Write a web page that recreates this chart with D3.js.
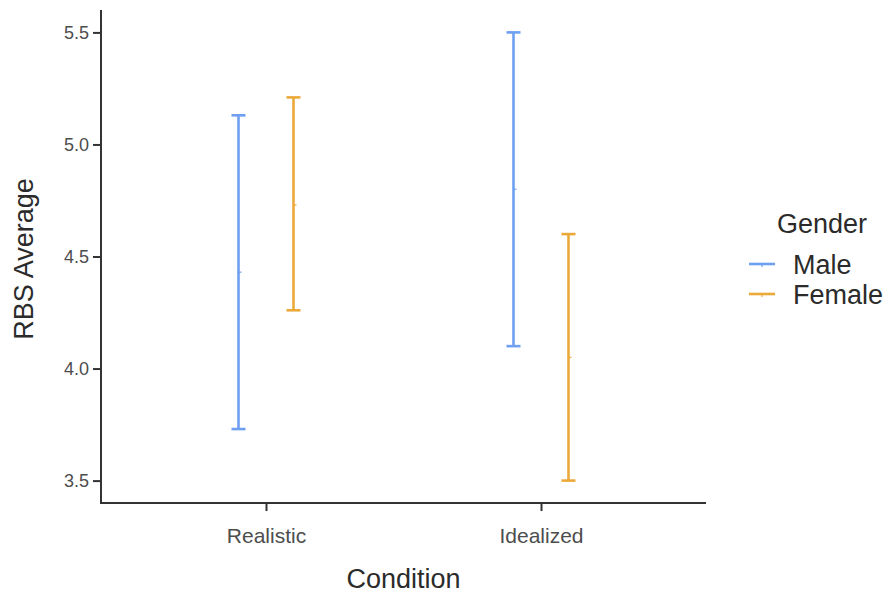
<!DOCTYPE html>
<html lang="en">
<head>
  <meta charset="utf-8">
  <title>RBS Average by Condition</title>
  <script src="https://d3js.org/d3.v7.min.js"></script>
  <style>
    body { margin: 0; background: #fff; }
    svg { display: block; font-family: "Liberation Sans", Arial, sans-serif; }
  </style>
</head>
<body>

<svg width="894" height="596"></svg>

<script>
  // Data
  const conditions = ["Realistic", "Idealized"];
  const genders = ["Male", "Female"];
  const means = { Male: [4.43, 4.80], Female: [4.73, 4.05] };
  const lower = { Male: [3.73, 4.10], Female: [4.26, 3.50] };
  const upper = { Male: [5.13, 5.50], Female: [5.21, 4.60] };
  const yTicks = [3.5, 4.0, 4.5, 5.0, 5.5];

  const colors = { Male: "#6e9ff0", Female: "#eba93a" };

  const svg = d3.select("svg");
  const pLeft = 101, pRight = 706, pTop = 10, pBottom = 503;

  // scales
  const x = d3.scaleLinear().domain([0.4, 2.6]).range([pLeft, pRight]);
  const y = d3.scaleLinear().domain([3.4, 5.6]).range([pBottom, pTop]);
  const dodge = { Male: -0.1, Female: 0.1 };

  // rows
  const rows = [];
  genders.forEach(g => conditions.forEach((c, i) => {
    rows.push({ gender: g, idx: i + 1, mean: means[g][i], lo: lower[g][i], hi: upper[g][i] });
  }));

  // Axes
  const yAxis = svg.append("g")
    .attr("transform", `translate(${pLeft},0)`)
    .call(d3.axisLeft(y).tickValues(yTicks).tickFormat(d3.format(".1f")).tickSize(8).tickSizeOuter(0).tickPadding(4));
  yAxis.select(".domain").remove();
  yAxis.append("line").attr("y1", pTop).attr("y2", pBottom).attr("stroke", "#333").attr("stroke-width", 2);
  yAxis.selectAll(".tick line").attr("stroke", "#333").attr("stroke-width", 2);
  yAxis.selectAll(".tick text").attr("fill", "#4d4d4d").attr("font-size", 18);

  const xAxis = svg.append("g")
    .attr("transform", `translate(0,${pBottom})`)
    .call(d3.axisBottom(x).tickValues([1, 2]).tickFormat(d => conditions[d - 1]).tickSize(8).tickSizeOuter(0).tickPadding(17));
  xAxis.select(".domain").remove();
  xAxis.append("line").attr("x1", pLeft - 1).attr("x2", pRight).attr("stroke", "#333").attr("stroke-width", 2);
  xAxis.selectAll(".tick line").attr("stroke", "#333").attr("stroke-width", 2);
  xAxis.selectAll(".tick text").attr("fill", "#4d4d4d").attr("font-size", 21);

  // Error bars
  const bars = svg.append("g").selectAll("g").data(rows).join("g")
    .attr("stroke", d => colors[d.gender]).attr("stroke-width", 2.6);
  bars.append("line")
    .attr("x1", d => x(d.idx + dodge[d.gender])).attr("x2", d => x(d.idx + dodge[d.gender]))
    .attr("y1", d => y(d.lo)).attr("y2", d => y(d.hi));
  bars.append("line")
    .attr("x1", d => x(d.idx + dodge[d.gender]) - 7).attr("x2", d => x(d.idx + dodge[d.gender]) + 7)
    .attr("y1", d => y(d.hi)).attr("y2", d => y(d.hi));
  bars.append("line")
    .attr("x1", d => x(d.idx + dodge[d.gender]) - 7).attr("x2", d => x(d.idx + dodge[d.gender]) + 7)
    .attr("y1", d => y(d.lo)).attr("y2", d => y(d.lo));
  // tiny mean point
  bars.append("line")
    .attr("stroke-width", 1.2)
    .attr("x1", d => x(d.idx + dodge[d.gender])).attr("x2", d => x(d.idx + dodge[d.gender]) + 3)
    .attr("y1", d => y(d.mean)).attr("y2", d => y(d.mean));

  // Axis titles
  svg.append("text")
    .attr("x", (pLeft + pRight) / 2).attr("y", 588)
    .attr("text-anchor", "middle").attr("font-size", 27).attr("fill", "#2b2b2b")
    .text("Condition");
  svg.append("text")
    .attr("transform", `translate(33,259) rotate(-90)`)
    .attr("text-anchor", "middle").attr("font-size", 27).attr("fill", "#2b2b2b")
    .text("RBS Average");

  // Legend
  const legend = svg.append("g").attr("transform", "translate(749,0)");
  legend.append("text").attr("x", 28).attr("y", 233).attr("font-size", 27).attr("fill", "#2b2b2b").text("Gender");
  const item = legend.selectAll("g.item").data(genders).join("g")
    .attr("class", "item")
    .attr("transform", (d, i) => `translate(0,${264 + i * 30})`);
  item.append("line").attr("x1", 0).attr("x2", 26).attr("stroke", d => colors[d]).attr("stroke-width", 2.6);
  item.append("line").attr("x1", 13).attr("x2", 13).attr("y1", 0).attr("y2", 3).attr("stroke", d => colors[d]).attr("stroke-width", 1.2);
  item.append("text").attr("x", 44).attr("y", 10).attr("font-size", 27).attr("fill", "#2b2b2b").text(d => d);
</script>
</body>
</html>
